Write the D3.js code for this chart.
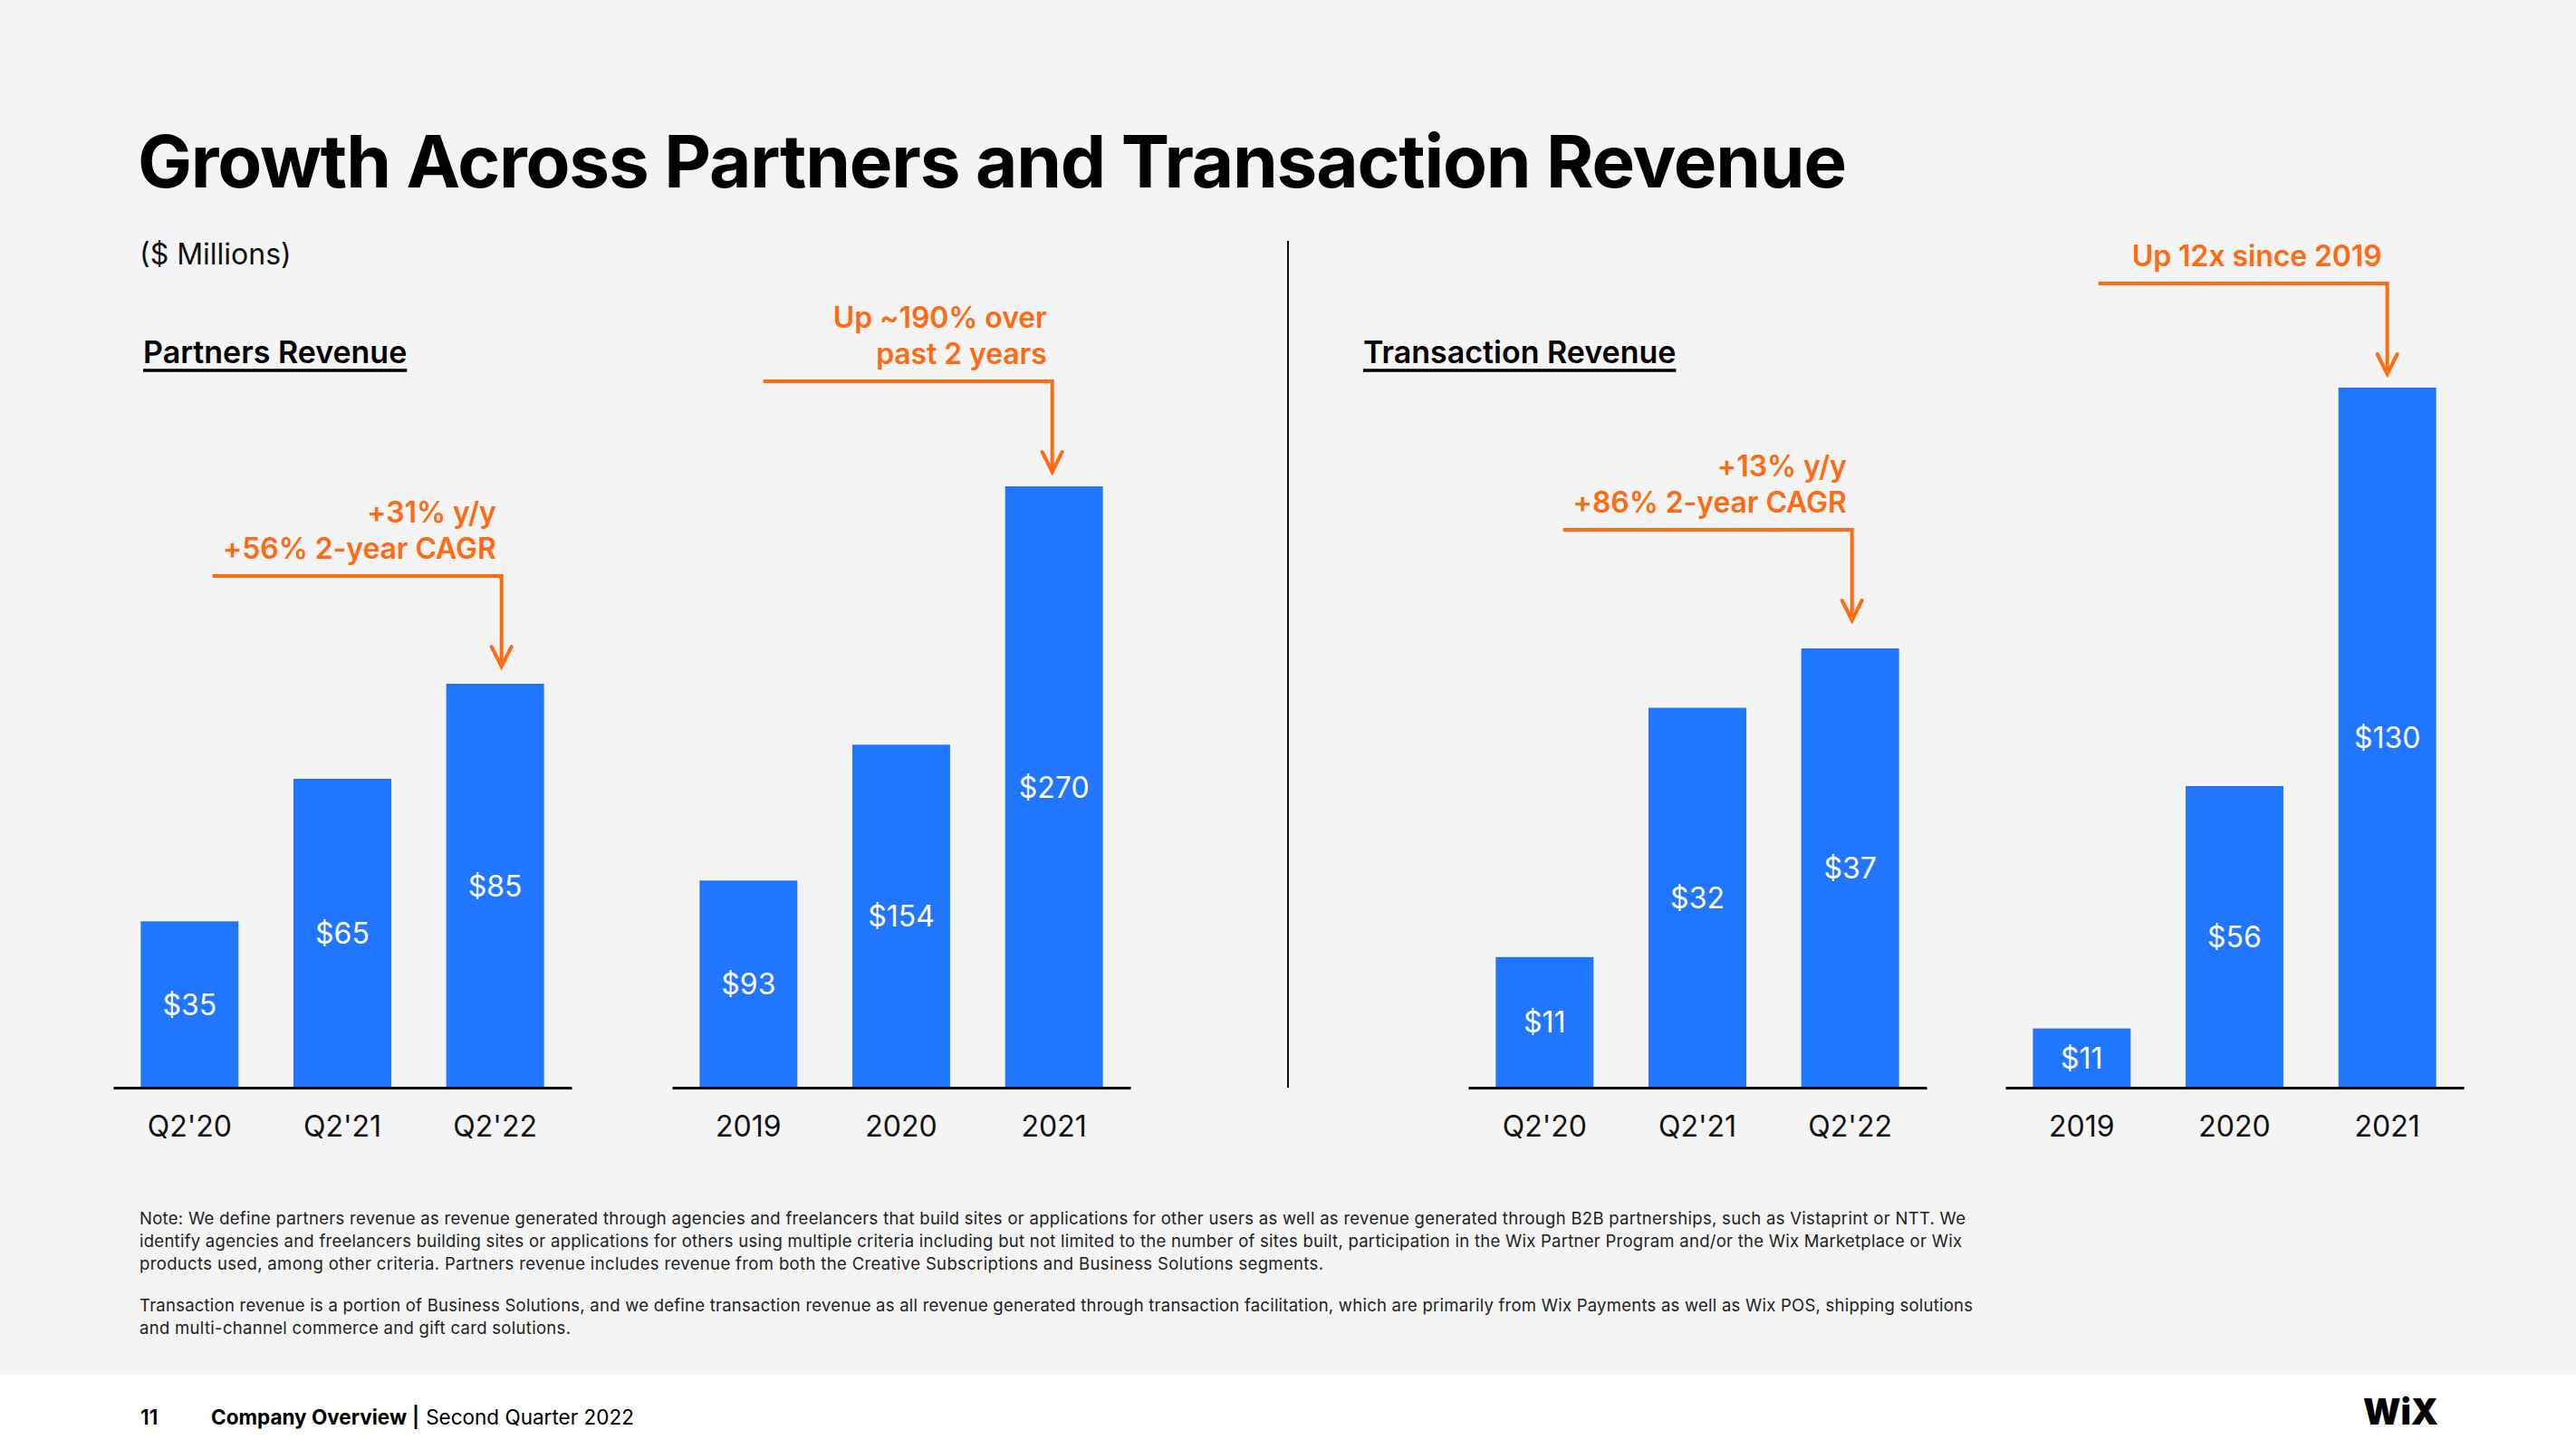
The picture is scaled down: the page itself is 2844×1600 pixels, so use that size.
<!DOCTYPE html>
<html>
<head>
<meta charset="utf-8">
<script src="https://cdn.jsdelivr.net/npm/d3@7"></script>
<style>
  html, body { margin: 0; padding: 0; background: #f4f4f4; }
  svg { display: block; font-family: Inter, "Noto Sans", sans-serif; }
</style>
</head>
<body>
<svg id="slide" width="2844" height="1600"></svg>
<script>
// ---- data ----
var partnersQCats = ["Q2'20", "Q2'21", "Q2'22"];
var partnersQVals = [35, 65, 85];
var partnersYCats = ["2019", "2020", "2021"];
var partnersYVals = [93, 154, 270];
var transQCats = ["Q2'20", "Q2'21", "Q2'22"];
var transQVals = [11, 32, 37];
var transYCats = ["2019", "2020", "2021"];
var transYVals = [11, 56, 130];

var calloutText = [
  ["+31% y/y", "+56% 2-year CAGR"],
  ["Up ~190% over", "past 2 years"],
  ["+13% y/y", "+86% 2-year CAGR"],
  ["Up 12x since 2019"]
];

var noteLines = [
  "Note: We define partners revenue as revenue generated through agencies and freelancers that build sites or applications for other users as well as revenue generated through B2B partnerships, such as Vistaprint or NTT. We",
  "identify agencies and freelancers building sites or applications for others using multiple criteria including but not limited to the number of sites built, participation in the Wix Partner Program and/or the Wix Marketplace or Wix",
  "products used, among other criteria. Partners revenue includes revenue from both the Creative Subscriptions and Business Solutions segments.",
  "Transaction revenue is a portion of Business Solutions, and we define transaction revenue as all revenue generated through transaction facilitation, which are primarily from Wix Payments as well as Wix POS, shipping solutions",
  "and multi-channel commerce and gift card solutions."
];

// ---- layout ----
var blue = "#2176ff", orange = "#ff6a13", ink = "#111";
var base = 1201;
var panels = [
  {cats: partnersQCats, vals: partnersQVals, x0: 125, top: 755},
  {cats: partnersYCats, vals: partnersYVals, x0: 742, top: 537},
  {cats: transQCats, vals: transQVals, x0: 1621, top: 716},
  {cats: transYCats, vals: transYVals, x0: 2214, top: 428}
];
var panelW = 506;
// callout: which panel, which bar, y of the horizontal leg, x nudge
var callouts = [
  {p: 0, bar: 2, hy: 636, dx: 7},
  {p: 1, bar: 2, hy: 421, dx: -2},
  {p: 2, bar: 2, hy: 585, dx: 2},
  {p: 3, bar: 2, hy: 313, dx: 0}
];

var svg = d3.select("#slide");

svg.append("rect").attr("x", 0).attr("y", 0).attr("width", 2844).attr("height", 1518).attr("fill", "#f4f4f4");
svg.append("rect").attr("x", 0).attr("y", 1518).attr("width", 2844).attr("height", 82).attr("fill", "#ffffff");

// title + subtitle
svg.append("text")
  .attr("x", 152).attr("y", 207)
  .attr("font-size", 80).attr("font-weight", 700)
  .attr("letter-spacing", -1.2)
  .attr("fill", "#000")
  .text("Growth Across Partners and Transaction Revenue");

svg.append("text")
  .attr("x", 154).attr("y", 292)
  .attr("font-size", 32).attr("fill", ink)
  .text("($ Millions)");

// section headings, underlined
[["Partners Revenue", 158], ["Transaction Revenue", 1505]].forEach(function(h) {
  var t = svg.append("text")
    .attr("x", h[1]).attr("y", 401)
    .attr("font-size", 34).attr("font-weight", 600)
    .attr("fill", "#000")
    .text(h[0]);
  var w = t.node().getComputedTextLength();
  svg.append("line")
    .attr("x1", h[1]).attr("x2", h[1] + w)
    .attr("y1", 409).attr("y2", 409)
    .attr("stroke", "#000").attr("stroke-width", 3.5);
});

// divider
svg.append("line")
  .attr("x1", 1422).attr("x2", 1422)
  .attr("y1", 266).attr("y2", 1201)
  .attr("stroke", ink).attr("stroke-width", 2);

// bars
var scales = [];
panels.forEach(function(pn, pi) {
  var x = d3.scaleBand().domain(pn.cats).range([pn.x0, pn.x0 + panelW])
    .paddingInner(0.36).paddingOuter(0.18);
  var y = d3.scaleLinear().domain([0, d3.max(pn.vals)]).range([base, pn.top]);
  scales.push({x: x, y: y});
  var g = svg.append("g").attr("class", "panel" + pi);

  g.selectAll("rect.bar")
    .data(pn.vals)
    .enter()
    .append("rect")
      .attr("class", "bar")
      .attr("x", function(d, i) { return x(pn.cats[i]); })
      .attr("y", function(d) { return y(d); })
      .attr("width", x.bandwidth())
      .attr("height", function(d) { return base - y(d); })
      .attr("fill", blue);

  g.selectAll("text.val")
    .data(pn.vals)
    .enter()
    .append("text")
      .attr("class", "val")
      .attr("x", function(d, i) { return x(pn.cats[i]) + x.bandwidth() / 2; })
      .attr("y", function(d) { return (y(d) + base) / 2; })
      .attr("dy", "0.36em")
      .attr("text-anchor", "middle")
      .attr("font-size", 32).attr("fill", "#fff")
      .text(function(d) { return "$" + d; });

  var ax = g.append("g")
    .attr("transform", "translate(0," + base + ")")
    .call(d3.axisBottom(x).tickSize(0).tickPadding(31));
  ax.select(".domain").attr("stroke", "#000").attr("stroke-width", 3);
  ax.selectAll("text")
    .attr("font-family", "Inter, sans-serif")
    .attr("font-size", 32).attr("fill", ink);
});

// callouts
callouts.forEach(function(c, ci) {
  var sc = scales[c.p];
  var cat = panels[c.p].cats[c.bar];
  var ax = sc.x(cat) + sc.x.bandwidth() / 2 + c.dx;
  var tip = c.hy + 100;
  svg.append("path")
    .attr("d", "M" + (ax - 319) + "," + c.hy + " H" + ax + " V" + tip)
    .attr("fill", "none").attr("stroke", orange).attr("stroke-width", 4);
  svg.append("path")
    .attr("d", "M" + (ax - 11) + "," + (tip - 22) + " L" + ax + "," + tip + " L" + (ax + 11) + "," + (tip - 22))
    .attr("fill", "none").attr("stroke", orange).attr("stroke-width", 4)
    .attr("stroke-linejoin", "miter").attr("stroke-linecap", "round");
  var lines = calloutText[ci];
  lines.forEach(function(s, li) {
    svg.append("text")
      .attr("x", ax - 6)
      .attr("y", c.hy - 19 - (lines.length - 1 - li) * 40)
      .attr("text-anchor", "end")
      .attr("font-size", 32).attr("font-weight", 600)
      .attr("letter-spacing", -0.1)
      .attr("fill", orange)
      .text(s);
  });
});

// footnotes
var noteY = [1352, 1377, 1402, 1448, 1473];
var noteW = [2016, 2012, 1307, 2024, 476];
svg.selectAll("text.note")
  .data(noteLines)
  .enter()
  .append("text")
    .attr("class", "note")
    .attr("x", 154)
    .attr("y", function(d, i) { return noteY[i]; })
    .attr("textLength", function(d, i) { return noteW[i]; })
    .attr("lengthAdjust", "spacing")
    .attr("font-size", 18.5).attr("fill", "#222")
    .text(function(d) { return d; });

// footer
svg.append("text").attr("x", 155).attr("y", 1573)
  .attr("font-size", 23).attr("font-weight", 600).attr("fill", "#000").text("11");
var ft = svg.append("text").attr("x", 233).attr("y", 1573).attr("font-size", 22.5).attr("fill", "#000");
ft.append("tspan").attr("font-weight", 700).text("Company Overview");
ft.append("tspan").attr("font-weight", 600).attr("dx", 6).text("|");
ft.append("tspan").attr("font-weight", 400).attr("dx", 7).text("Second Quarter 2022");

svg.append("text").attr("x", 2609).attr("y", 1573)
  .attr("font-size", 40).attr("font-weight", 900)
  .attr("textLength", 83).attr("lengthAdjust", "spacingAndGlyphs")
  .attr("fill", "#000")
  .text("WiX");
</script>
</body>
</html>
